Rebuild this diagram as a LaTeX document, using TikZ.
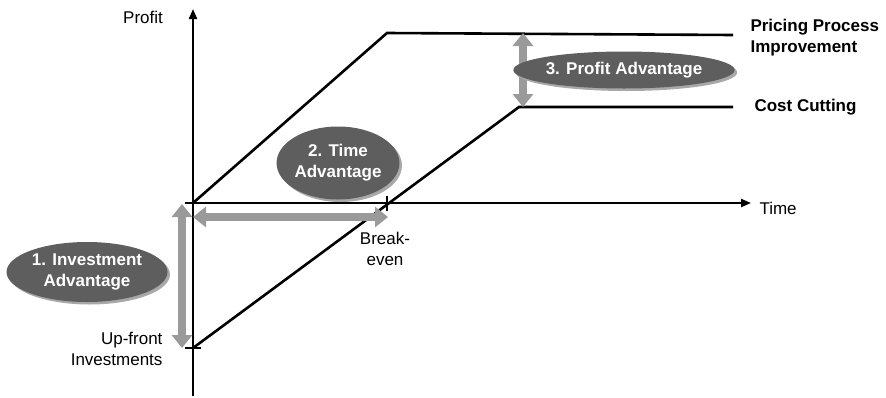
\documentclass[tikz,border=0pt]{standalone}
\usepackage{fontspec}
\setmainfont{Liberation Sans}
\usetikzlibrary{arrows.meta,shapes.geometric,shadows}
\definecolor{ellfill}{HTML}{5E5E5E}
\definecolor{shadowgray}{HTML}{A8A8A8}
\definecolor{fatgray}{HTML}{9A9A9A}
\begin{document}
\begin{tikzpicture}[x=1pt,y=-1pt,
  every node/.style={font=\fontsize{17}{21}\selectfont},
  axisline/.style={line width=2pt,-{Triangle[width=8pt,length=10pt]}},
  curveline/.style={line width=2.6pt,line join=miter},
  tickline/.style={line width=1.5pt},
  fatarrow/.style={fatgray,line width=8pt,{Triangle[width=20pt,length=13pt]}-{Triangle[width=20pt,length=13pt]}},
  advell/.style={ellipse,fill=ellfill,text=white,font=\fontsize{17}{21}\selectfont\bfseries,align=center,inner sep=0pt,
     drop shadow={shadow xshift=2.5pt,shadow yshift=-2.5pt,fill=shadowgray,opacity=1}},
  lbl/.style={text=black}
]
\useasboundingbox (0,0) rectangle (886,397);
% key points
\coordinate (O) at (193,203);
\coordinate (YB) at (193,396);
\coordinate (YT) at (193,9);
\coordinate (XL) at (185,203);
\coordinate (XR) at (751,203);
\coordinate (P1) at (387,33);
\coordinate (P2) at (733,35);
\coordinate (C0) at (193,348);
\coordinate (C1) at (519,107);
\coordinate (C2) at (733,107);
\coordinate (BE) at (387,203);
\coordinate (BEt) at (387,196);
\coordinate (BEb) at (387,211);
\coordinate (C0l) at (185,348);
\coordinate (C0r) at (201,348);
% axes
\draw[axisline] (YB) -- (YT);
\draw[axisline] (XL) -- (XR);
% curves
\draw[curveline] (O) -- (P1) -- (P2);
\draw[curveline] (C0) -- (C1) -- (C2);
% ticks
\draw[tickline] (BEt) -- (BEb);
\draw[tickline] (C0l) -- (C0r);
% fat gray arrows
\coordinate (VA1) at (182,204);
\coordinate (VA2) at (182,348);
\coordinate (HA1) at (193,217);
\coordinate (HA2) at (388,217);
\coordinate (PA1) at (523,33);
\coordinate (PA2) at (523,107);
\draw[fatarrow] (VA1) -- (VA2);
\draw[fatarrow] (HA1) -- (HA2);
\draw[fatarrow] (PA1) -- (PA2);
% ellipses
\node[advell,minimum width=161pt,minimum height=60pt] (e1) at (87,272) {1. Investment\\Advantage};
\node[advell,minimum width=117pt,minimum height=73pt] (e2) at (338,163) {2. Time\\Advantage};
\node[advell,minimum width=185pt,minimum height=37pt] (e3) at (624,70) {3. Profit Advantage};
% labels
\node[lbl] (profit) at (143,17) {Profit};
\node[lbl,anchor=west] (time) at (756,208) {Time};
\node[lbl,anchor=west,align=left,font=\fontsize{17}{21}\selectfont\bfseries] (ppi) at (747,38) {Pricing Process\\Improvement};
\node[lbl,anchor=west,font=\fontsize{17}{21}\selectfont\bfseries] (cc) at (751,107) {Cost Cutting};
\node[lbl,anchor=east,align=right] (upf) at (166,349) {Up-front\\Investments};
\node[lbl,align=center] (be) at (385,249) {Break-\\even};
\end{tikzpicture}
\end{document}
